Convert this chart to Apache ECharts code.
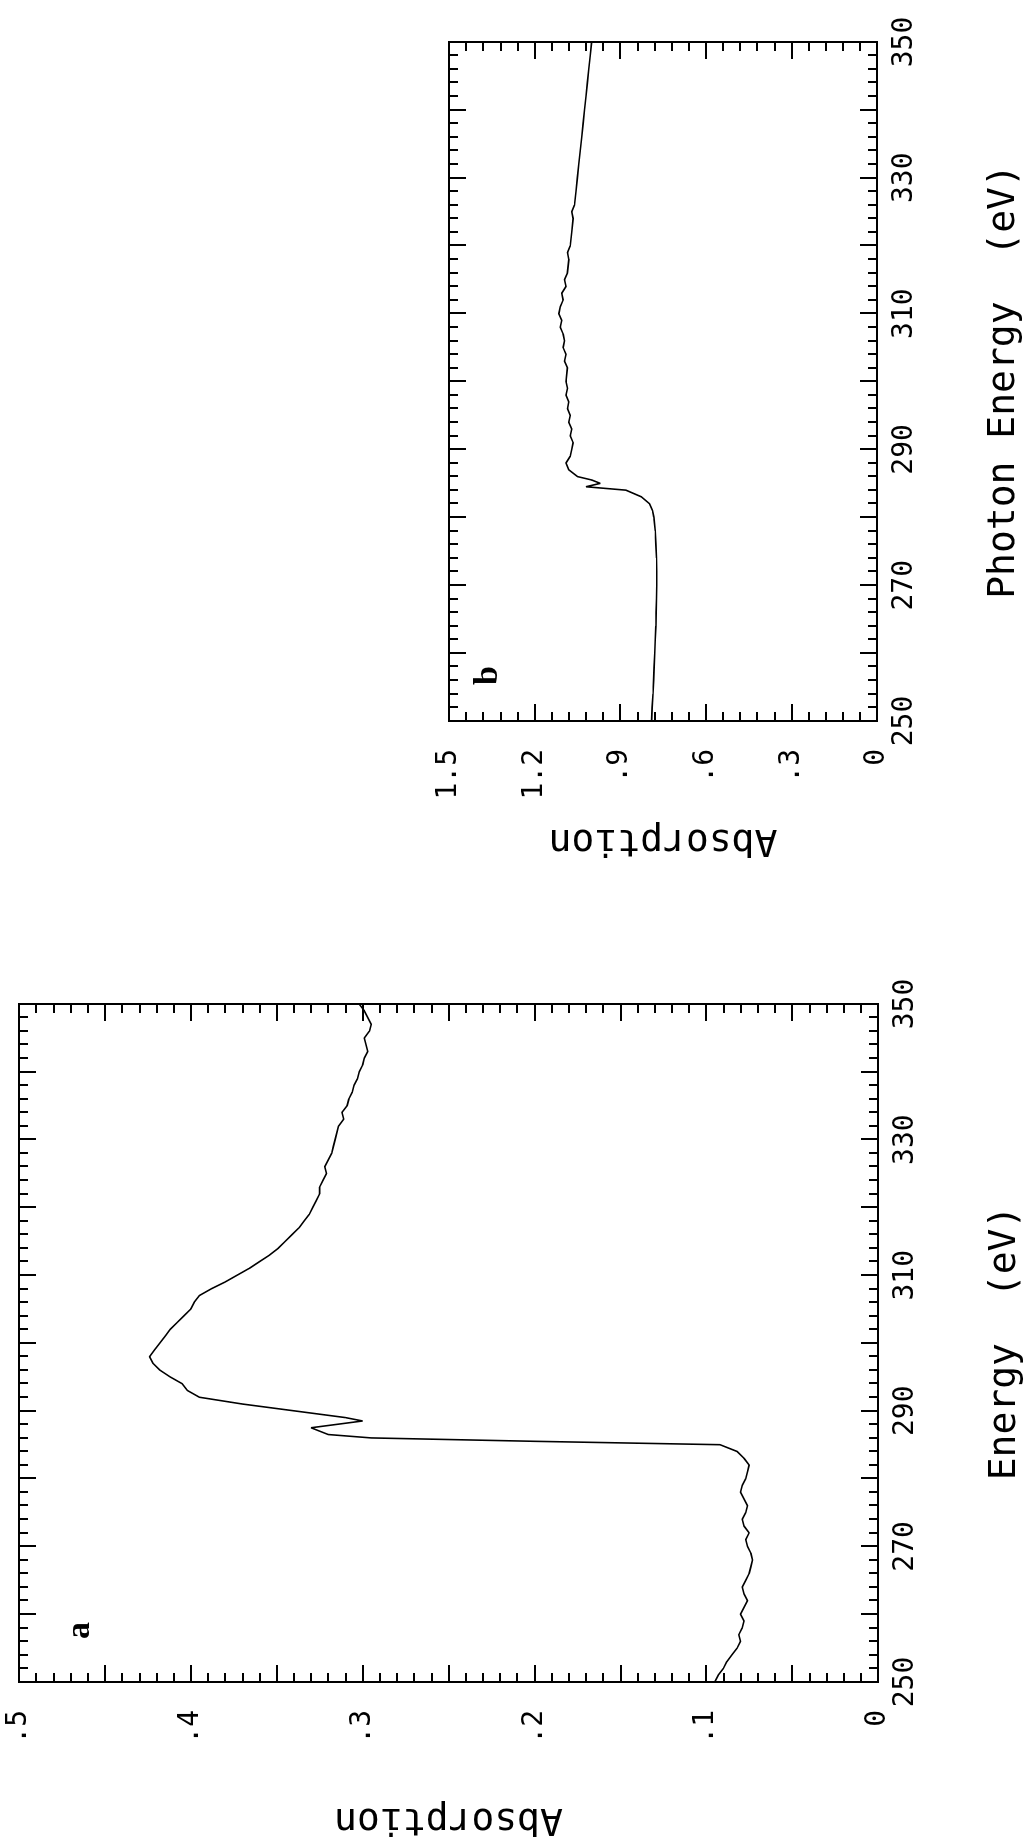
<!DOCTYPE html>
<html>
<head>
<meta charset="utf-8">
<script src="https://cdn.jsdelivr.net/npm/echarts@6/dist/echarts.min.js"></script>
<style>
html,body{margin:0;padding:0;background:#fff;}
#wrap{position:relative;width:1030px;height:1840px;overflow:hidden;background:#fff;}
#chart{position:absolute;left:0;top:0;width:1840px;height:1030px;transform-origin:0 0;transform:translate(0,1840px) rotate(-90deg);}
</style>
</head>
<body>
<div id="wrap"><div id="chart"></div></div>
<script>
// Panel a: Energy (eV) vs Absorption
const energyA = [250,251,252,253,254,255,256,257,258,259,260,261,262,263,264,265,266,267,268,269,270,271,272,273,274,275,276,277,278,279,280,281,282,283,284,285,285.5,286,286.5,287.5,288.5,289,290,291,292,293,294,295,296,297,298,299,300,301,302,303,304,305,306,307,308,309,310,311,312,313,314,315,316,317,318,319,320,321,322,323,324,325,326,327,328,329,330,332,333,334,335,336,337,338,339,340,341,342,343,344,345,346,347,348,349,350];
const absA = [0.095,0.093,0.090,0.088,0.085,0.082,0.080,0.081,0.079,0.078,0.080,0.078,0.076,0.078,0.079,0.077,0.075,0.074,0.073,0.074,0.076,0.077,0.075,0.078,0.079,0.077,0.076,0.078,0.080,0.079,0.077,0.076,0.075,0.078,0.082,0.092,0.200,0.295,0.320,0.330,0.300,0.310,0.340,0.370,0.395,0.402,0.405,0.412,0.418,0.422,0.424,0.421,0.418,0.415,0.412,0.408,0.404,0.400,0.398,0.395,0.388,0.380,0.373,0.366,0.360,0.354,0.349,0.345,0.341,0.337,0.334,0.331,0.329,0.327,0.325,0.325,0.323,0.321,0.322,0.320,0.318,0.317,0.316,0.314,0.311,0.312,0.309,0.308,0.306,0.305,0.303,0.302,0.300,0.299,0.297,0.298,0.299,0.296,0.295,0.297,0.299,0.302];

// Panel b: Photon Energy (eV) vs Absorption
const energyB = [250,252,254,256,258,260,262,264,266,268,270,272,274,276,278,280,281,282,283,284,284.5,285,285.5,286,287,288,289,290,291,292,293,294,295,296,297,298,299,300,302,303,304,305,306,307,308,309,310,311,312,313,314,315,316,318,319,320,322,324,325,326,328,330,332,334,336,338,340,342,344,346,348,350];
const absB = [0.790,0.788,0.785,0.783,0.781,0.779,0.777,0.775,0.774,0.773,0.772,0.772,0.773,0.775,0.777,0.782,0.787,0.797,0.825,0.880,1.020,0.970,1.000,1.050,1.080,1.090,1.075,1.070,1.065,1.075,1.070,1.080,1.075,1.085,1.080,1.090,1.085,1.090,1.085,1.095,1.090,1.100,1.095,1.100,1.110,1.105,1.115,1.110,1.100,1.105,1.090,1.095,1.085,1.080,1.085,1.075,1.070,1.065,1.070,1.060,1.055,1.050,1.045,1.040,1.035,1.030,1.025,1.020,1.015,1.010,1.005,1.000];

// Tick labels
const energyTickLabels = ['250','270','290','310','330','350'];
const absTickLabelsA = ['0','.1','.2','.3','.4','.5'];
const absTickLabelsB = ['0','.3','.6','.9','1.2','1.5'];

const FONT = 'DejaVu Sans Mono';
const BLACK = '#000';

function pairs(xs, ys){ return xs.map((x,i)=>[x, ys[i]]); }

function energyAxis(grid, pos, name){
  return {
    type:'value', gridIndex:grid, position:pos, min:250, max:350, interval:10,
    axisLine:{show:true, onZero:false, lineStyle:{color:BLACK, width:2}},
    axisTick:{show:true, inside:true, length:17, lineStyle:{color:BLACK, width:2}},
    minorTick:{show:true, splitNumber:5, length:9, lineStyle:{color:BLACK, width:2}},
    splitLine:{show:false}, minorSplitLine:{show:false},
    axisLabel:{show: pos==='bottom', margin:14, fontSize:28, fontFamily:FONT, color:BLACK,
      formatter:function(v){ const s=String(Math.round(v)); return energyTickLabels.indexOf(s)>=0 ? s : ''; }},
    name: pos==='bottom' ? name : '', nameLocation:'middle', nameGap:108,
    nameTextStyle:{fontSize:38, fontFamily:FONT, color:BLACK}
  };
}
function absAxis(grid, pos, max, interval, labels, gap){
  return {
    type:'value', gridIndex:grid, position:pos, min:0, max:max, interval:interval,
    axisLine:{show:true, onZero:false, lineStyle:{color:BLACK, width:2}},
    axisTick:{show:true, inside:true, length:17, lineStyle:{color:BLACK, width:2}},
    minorTick:{show:true, splitNumber:5, length:9, lineStyle:{color:BLACK, width:2}},
    splitLine:{show:false}, minorSplitLine:{show:false},
    axisLabel:{show: pos==='left', margin:28, fontSize:28, fontFamily:FONT, color:BLACK,
      formatter:function(v){
        for (const s of labels){ const n = s==='0'?0:parseFloat(s.charAt(0)==='.'?'0'+s:s); if (Math.abs(n-v)<1e-6) return s; }
        return '';
      }},
    name: pos==='left' ? 'Absorption' : '', nameLocation:'middle', nameGap:gap,
    nameTextStyle:{fontSize:38, fontFamily:FONT, color:BLACK}
  };
}

const chart = echarts.init(document.getElementById('chart'), null, {renderer:'canvas'});
chart.setOption({
  animation:false,
  backgroundColor:'#fff',
  title:[
    {text:'a', left:196, top:58, textStyle:{fontFamily:'Liberation Serif', fontWeight:'bold', fontSize:34, color:BLACK}},
    {text:'b', left:1150, top:466, textStyle:{fontFamily:'Liberation Serif', fontWeight:'bold', fontSize:34, color:BLACK}}
  ],
  grid:[
    {left:158, top:19, width:678, height:859, show:true, borderColor:BLACK, borderWidth:2, backgroundColor:'transparent'},
    {left:1119, top:449, width:679, height:428, show:true, borderColor:BLACK, borderWidth:2, backgroundColor:'transparent'}
  ],
  xAxis:[
    energyAxis(0,'bottom','Energy  (eV)'),
    energyAxis(0,'top',''),
    energyAxis(1,'bottom','Photon Energy  (eV)'),
    energyAxis(1,'top','')
  ],
  yAxis:[
    absAxis(0,'left',0.5,0.05,absTickLabelsA,118),
    absAxis(0,'right',0.5,0.05,absTickLabelsA,0),
    absAxis(1,'left',1.5,0.3,absTickLabelsB,100),
    absAxis(1,'right',1.5,0.3,absTickLabelsB,0)
  ],
  series:[
    {type:'line', xAxisIndex:0, yAxisIndex:0, data:pairs(energyA, absA), showSymbol:false, symbol:'none',
     lineStyle:{color:BLACK, width:1.6}},
    {type:'line', xAxisIndex:2, yAxisIndex:2, data:pairs(energyB, absB), showSymbol:false, symbol:'none',
     lineStyle:{color:BLACK, width:1.6}}
  ]
});
</script>
</body>
</html>
